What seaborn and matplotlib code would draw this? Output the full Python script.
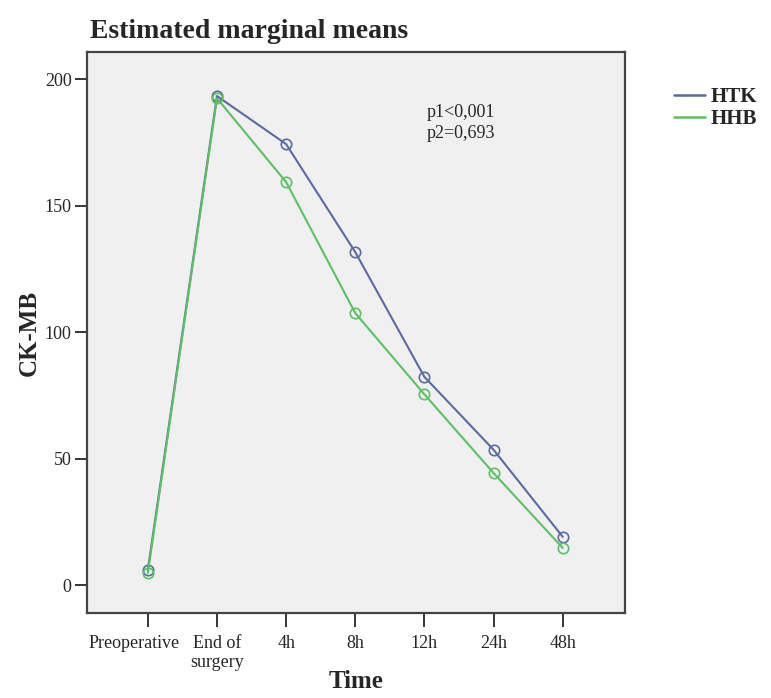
import pandas as pd
import matplotlib.pyplot as plt
import matplotlib.transforms as mtransforms
import seaborn as sns

# data
times = ["Preoperative", "End of\nsurgery", "4h", "8h", "12h", "24h", "48h"]
htk = [6.0, 193.3, 174.3, 131.6, 82.3, 53.5, 19.1]
hhb = [4.8, 192.4, 159.3, 107.5, 75.4, 44.3, 14.7]
groups = ["HTK", "HHB"]
colors = {"HTK": "#5b6aa0", "HHB": "#5cc064"}

df = pd.DataFrame({
    "Time": list(range(len(times))) * 2,
    "CK-MB": htk + hhb,
    "Group": ["HTK"] * len(times) + ["HHB"] * len(times),
})

sns.set_style("ticks")
plt.rcParams["font.family"] = ["Liberation Serif", "DejaVu Serif"]

fig = plt.figure(figsize=(7.71, 6.98), dpi=100)
ax = fig.add_axes([0.1128, 0.1218, 0.6978, 0.8037])
ax.set_facecolor("#f0f0f0")

sns.lineplot(data=df, x="Time", y="CK-MB", hue="Group", hue_order=groups,
             palette=colors, marker="o", markersize=7.5, markerfacecolor="none",
             markeredgewidth=1.2, linewidth=1.5, ax=ax, legend=False)
# open circles in the line colour
for line in ax.lines:
    line.set_markeredgecolor(line.get_color())

ax.set_xlim(-0.88, 6.9)
ax.set_ylim(-11, 210.7)
ax.set_xticks(range(len(times)))
ax.set_xticklabels(times, fontsize=13, linespacing=1.15)
ax.set_yticks([0, 50, 100, 150, 200])
ax.tick_params(axis="y", labelsize=13, length=9, width=1.3, pad=2)
ax.tick_params(axis="x", length=10, width=1.3, pad=6)
for s in ax.spines.values():
    s.set_color("#444444")
    s.set_linewidth(1.6)

# first label sits a bit left of its tick, as in the original
lab0 = ax.get_xticklabels()[0]
lab0.set_transform(lab0.get_transform() +
                   mtransforms.ScaledTranslation(-0.14, 0, fig.dpi_scale_trans))

ax.set_xlabel("Time", fontsize=18, fontweight="bold", labelpad=-1)
ax.set_ylabel("CK-MB", fontsize=18, fontweight="bold", labelpad=3)
fig.text(0.117, 0.945, "Estimated marginal means", fontsize=20, fontweight="bold")

ax.text(0.632, 0.908, "p1<0,001\np2=0,693", transform=ax.transAxes, fontsize=13,
        va="top", linespacing=1.35)

handles = [plt.Line2D([], [], color=colors[g], linewidth=1.8) for g in groups]
fig.legend(handles, groups, loc="upper left", bbox_to_anchor=(0.85, 0.902),
           frameon=False, handlelength=1.5, handletextpad=0.25,
           labelspacing=0.1, prop={"weight": "bold", "size": 15})

fig.savefig("out.png", dpi=100)
